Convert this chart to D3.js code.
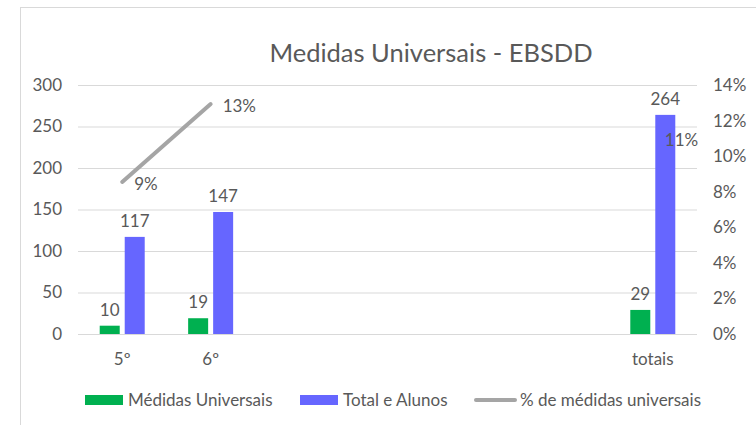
<!DOCTYPE html>
<html>
<head>
<meta charset="utf-8">
<script src="https://cdn.jsdelivr.net/npm/d3@7"></script>
<style>
  body { margin: 0; background: #fff; }
  text { font-family: Lato, 'Open Sans', sans-serif; fill: #595959; }
</style>
</head>
<body>
<svg id="chart" width="756" height="425"></svg>
<script>
const categories = ['5º', '6º', '', '', '', '', 'totais']
const medidas = [10, 19, null, null, null, null, 29]
const totalAlunos = [117, 147, null, null, null, null, 264]
const percentagem = [0.0855, 0.1293, null, null, null, null, 0.1098]
const leftTicks = [0, 50, 100, 150, 200, 250, 300]
const rightTicks = [0, 0.02, 0.04, 0.06, 0.08, 0.10, 0.12, 0.14]

const colors = { med: '#00b050', total: '#6666ff', pct: '#a5a5a5' }
const fs = '17px'

const svg = d3.select('#chart')
const plot = { left: 78, right: 697, top: 85, bottom: 334 }

// chart frame (cropped on the right and bottom)
svg.append('rect')
  .attr('x', 20.5).attr('y', 7.5)
  .attr('width', 900).attr('height', 500)
  .attr('fill', '#fff').attr('stroke', '#d9d9d9')

svg.append('text')
  .attr('x', 431).attr('y', 62)
  .attr('text-anchor', 'middle')
  .style('font-size', '25.5px')
  .text('Medidas Universais - EBSDD')

const x = d3.scaleBand()
  .domain(d3.range(categories.length))
  .range([plot.left, plot.right])

const half = x.bandwidth() / 2
const xSub = d3.scaleBand()
  .domain(['med', 'total'])
  .range([half - 22.5, half + 22.5])
  .paddingInner(0.2)

const yL = d3.scaleLinear().domain([0, 300]).range([plot.bottom, plot.top])
const yR = d3.scaleLinear().domain([0, 0.14]).range([plot.bottom, plot.top])

// gridlines
svg.append('g')
  .attr('transform', `translate(${plot.left},0)`)
  .call(d3.axisLeft(yL).tickValues(leftTicks).tickSize(-(plot.right - plot.left)).tickFormat(''))
  .call(g => g.select('.domain').remove())
  .call(g => g.selectAll('line').attr('stroke', '#d9d9d9'))

svg.append('g')
  .attr('transform', `translate(${plot.left},0)`)
  .call(d3.axisLeft(yL).tickValues(leftTicks).tickSize(0).tickPadding(16))
  .call(g => g.select('.domain').remove())
  .call(g => g.selectAll('text').style('font-size', fs).attr('fill', null))

svg.append('g')
  .attr('transform', `translate(${plot.right},0)`)
  .call(d3.axisRight(yR).tickValues(rightTicks).tickSize(0).tickPadding(16).tickFormat(d3.format('.0%')))
  .call(g => g.select('.domain').remove())
  .call(g => g.selectAll('text').style('font-size', fs).attr('fill', null))

svg.append('g')
  .attr('transform', `translate(0,${plot.bottom})`)
  .call(d3.axisBottom(x).tickSize(0).tickPadding(19).tickFormat(i => categories[i]))
  .call(g => g.select('.domain').remove())
  .call(g => g.selectAll('text').style('font-size', fs).attr('fill', null))

const series = [
  { key: 'med', values: medidas },
  { key: 'total', values: totalAlunos }
]

series.forEach(s => {
  const pts = s.values.map((v, i) => ({ i, v })).filter(d => d.v != null)
  svg.append('g').selectAll('rect')
    .data(pts)
    .join('rect')
    .attr('x', d => x(d.i) + xSub(s.key))
    .attr('width', xSub.bandwidth())
    .attr('y', d => yL(d.v))
    .attr('height', d => plot.bottom - yL(d.v))
    .attr('fill', colors[s.key])
  svg.append('g').selectAll('text')
    .data(pts)
    .join('text')
    .attr('x', d => x(d.i) + xSub(s.key) + xSub.bandwidth() / 2)
    .attr('y', d => yL(d.v) - 10)
    .attr('text-anchor', 'middle')
    .style('font-size', fs)
    .text(d => d.v)
})

const cx = i => x(i) + half
// an isolated point (no neighbour) draws nothing, like Excel's gaps
const line = d3.line()
  .defined((d, i, arr) => d != null && (arr[i - 1] != null || arr[i + 1] != null))
  .x((d, i) => cx(i))
  .y(d => yR(d))

svg.append('path')
  .datum(percentagem)
  .attr('d', line)
  .attr('fill', 'none')
  .attr('stroke', colors.pct)
  .attr('stroke-width', 4)
  .attr('stroke-linecap', 'round')

svg.append('g').selectAll('text')
  .data(percentagem.map((v, i) => ({ i, v })).filter(d => d.v != null))
  .join('text')
  .attr('x', d => cx(d.i) + 12)
  .attr('y', d => yR(d.v))
  .attr('dy', '0.45em')
  .style('font-size', fs)
  .text(d => d3.format('.0%')(d.v))

// legend
const legend = svg.append('g').attr('transform', 'translate(0,400)')
const items = [
  { label: 'Médidas Universais', type: 'rect', color: colors.med, x: 85 },
  { label: 'Total e Alunos', type: 'rect', color: colors.total, x: 300 },
  { label: '% de médidas universais', type: 'line', color: colors.pct, x: 476 }
]
items.forEach(it => {
  if (it.type === 'rect') {
    legend.append('rect')
      .attr('x', it.x).attr('y', -5)
      .attr('width', 38).attr('height', 10)
      .attr('fill', it.color)
  } else {
    legend.append('line')
      .attr('x1', it.x).attr('x2', it.x + 39)
      .attr('stroke', it.color).attr('stroke-width', 4)
      .attr('stroke-linecap', 'round')
  }
  legend.append('text')
    .attr('x', it.x + (it.type === 'rect' ? 43 : 44))
    .attr('dy', '0.35em')
    .style('font-size', fs)
    .text(it.label)
})
</script>
</body>
</html>
